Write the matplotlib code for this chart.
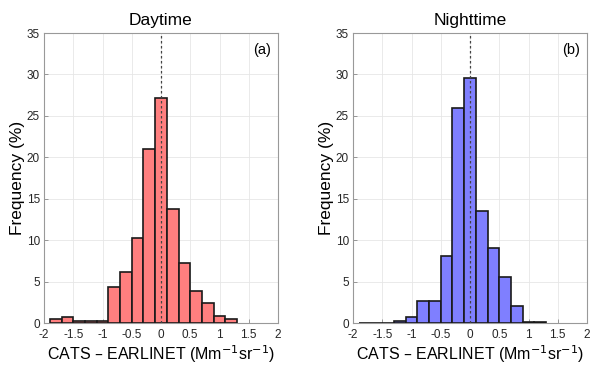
import matplotlib
matplotlib.use("Agg")
import matplotlib.pyplot as plt
import numpy as np

plt.rcParams['font.family'] = ['Liberation Sans', 'DejaVu Sans']

bin_centers = [-1.8, -1.6, -1.4, -1.2, -1.0, -0.8, -0.6, -0.4, -0.2, 0.0, 0.2, 0.4, 0.6, 0.8, 1.0, 1.2]
day_freq = [0.45, 0.7, 0.3, 0.2, 0.3, 4.3, 6.1, 10.2, 21.0, 27.1, 13.7, 7.3, 3.9, 2.4, 0.8, 0.45]
night_freq = [0.0, 0.0, 0.0, 0.2, 0.7, 2.6, 2.6, 8.1, 26.0, 29.6, 13.5, 9.1, 5.6, 2.1, 0.1, 0.1]
titles = ["Daytime", "Nighttime"]
panel_labels = ["(a)", "(b)"]
colors = ["#ff7f7f", "#7f7fff"]
xticks = [-2, -1.5, -1, -0.5, 0, 0.5, 1, 1.5, 2]
xticklabels = ["-2", "-1.5", "-1", "-0.5", "0", "0.5", "1", "1.5", "2"]
yticks = [0, 5, 10, 15, 20, 25, 30, 35]

fig = plt.figure(figsize=(6.0, 3.73), dpi=100)
W, H = 600, 373
axes_px = [(44, 278), (353, 587)]
top, bottom = 33, 323

for i, (x0, x1) in enumerate(axes_px):
    ax = fig.add_axes([x0 / W, 1 - bottom / H, (x1 - x0) / W, (bottom - top) / H])
    data = day_freq if i == 0 else night_freq
    ax.bar(bin_centers, data, width=0.2, color=colors[i], edgecolor='#1a1a1a', linewidth=1.2, zorder=3)
    ax.axvline(0, color='#444444', linestyle=(0, (2, 2)), linewidth=0.9, zorder=4)
    ax.set_xlim(-2, 2)
    ax.set_ylim(0, 35)
    ax.set_xticks(xticks)
    ax.set_xticklabels(xticklabels)
    ax.set_yticks(yticks)
    ax.grid(True, color='#e6e6e6', linewidth=0.6, zorder=0)
    ax.tick_params(direction='in', length=3, width=0.6, colors='#888888', labelcolor='#262626', labelsize=8.5,
                   top=False, right=False)
    ax.tick_params(axis='x', pad=4)
    ax.tick_params(axis='y', pad=3)
    for s in ax.spines.values():
        s.set_color('#999999')
        s.set_linewidth(0.8)
    ax.set_title(titles[i], fontsize=12.5, pad=6)
    ax.set_ylabel("Frequency (%)", fontsize=12.5, labelpad=1)
    ax.set_xlabel("CATS – EARLINET (Mm$^{-1}$sr$^{-1}$)", fontsize=11.5, labelpad=2)
    ax.text(0.97, 0.965, panel_labels[i], transform=ax.transAxes, ha='right', va='top', fontsize=10.5)

fig.savefig("out.png", dpi=100)
